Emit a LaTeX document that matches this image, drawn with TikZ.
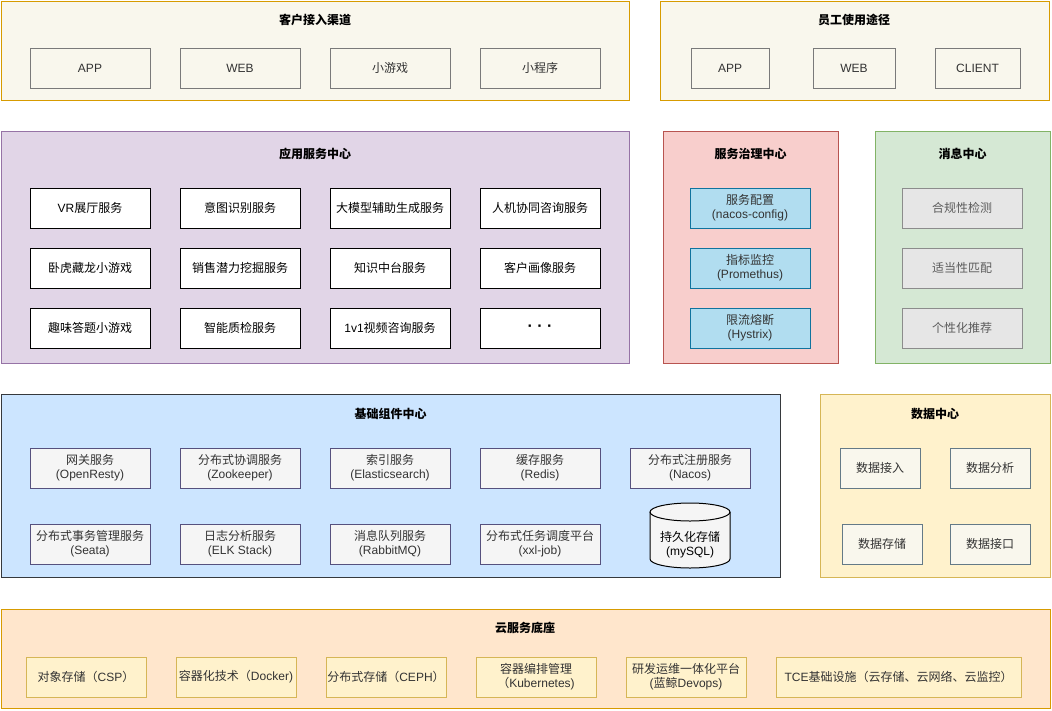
\documentclass[tikz,border=0pt]{standalone}
\usepackage{fontspec}
\setmainfont{Liberation Sans}
\newfontfamily\cjk{Noto Sans CJK SC}
\newfontfamily\latinf{Liberation Sans}
\XeTeXinterchartokenstate=1
\newXeTeXintercharclass\cjkcls
\count255="3000
\loop \XeTeXcharclass\count255=\cjkcls \ifnum\count255<"9FFF \advance\count255 by 1 \repeat
\count255="FF00
\loop \XeTeXcharclass\count255=\cjkcls \ifnum\count255<"FFEF \advance\count255 by 1 \repeat
\XeTeXinterchartoks 0 \cjkcls = {\cjk}
\XeTeXinterchartoks 4095 \cjkcls = {\cjk}
\XeTeXinterchartoks 255 \cjkcls = {\cjk}
\XeTeXinterchartoks \cjkcls 0 = {\latinf}
\definecolor{topfill}{HTML}{F9F7ED}
\definecolor{topline}{HTML}{D79B00}
\definecolor{topin}{HTML}{7A7A7A}
\definecolor{purfill}{HTML}{E1D5E7}
\definecolor{purline}{HTML}{9673A6}
\definecolor{redfill}{HTML}{F8CECC}
\definecolor{redline}{HTML}{B85450}
\definecolor{bluein}{HTML}{B1DDF0}
\definecolor{bluelin}{HTML}{10739E}
\definecolor{grnfill}{HTML}{D5E8D4}
\definecolor{grnline}{HTML}{82B366}
\definecolor{grayin}{HTML}{E6E6E6}
\definecolor{graylin}{HTML}{8C8C8C}
\definecolor{basefill}{HTML}{CCE5FF}
\definecolor{baseline}{HTML}{36393D}
\definecolor{basein}{HTML}{F5F5F5}
\definecolor{baselin}{HTML}{56517E}
\definecolor{datfill}{HTML}{FFF2CC}
\definecolor{datline}{HTML}{D6B656}
\definecolor{datinl}{HTML}{647A87}
\definecolor{cldfill}{HTML}{FFE6CC}
\definecolor{txtgray}{HTML}{333333}
\newcommand{\mybox}[7]{\node[#1, minimum width={#5-#3}, minimum height={#6-#4}] (#2) at ({(#3+#5)/2},{(#4+#6)/2}) {#7};}
\begin{document}
\begin{tikzpicture}[x=1pt,y=-1pt,
  every node/.style={inner sep=0pt, outer sep=0pt, font=\fontsize{12}{14}\selectfont, align=center},
  grp/.style={draw, line width=1pt},
  ttl/.style={font=\fontsize{12}{14}\selectfont\bfseries},
  inbox/.style={draw, line width=1pt, text=txtgray},
  topbox/.style={inbox, fill=topfill, draw=topin},
  appbox/.style={draw, line width=1pt, fill=white, draw=black, text=black},
  govbox/.style={inbox, fill=bluein, draw=bluelin},
  msgbox/.style={inbox, fill=grayin, draw=graylin, text=txtgray!80},
  bsbox/.style={inbox, fill=basein, draw=baselin},
  dtbox/.style={inbox, fill=topfill, draw=datinl},
  clbox/.style={inbox, fill=datfill, draw=datline},
]
\useasboundingbox (0,0) rectangle (1052,710);
% --- customer channels
\mybox{grp, fill=topfill, draw=topline}{cust}{1}{1}{629}{100}{}
\node[ttl] (custt) at (315,20) {客户接入渠道};
\mybox{topbox}{c1}{30}{48}{150}{88}{APP}
\mybox{topbox}{c2}{180}{48}{300}{88}{WEB}
\mybox{topbox}{c3}{330}{48}{450}{88}{小游戏}
\mybox{topbox}{c4}{480}{48}{600}{88}{小程序}
% --- staff
\mybox{grp, fill=topfill, draw=topline}{staff}{660}{1}{1049}{100}{}
\node[ttl] (stafft) at (854,20) {员工使用途径};
\mybox{topbox}{s1}{691}{48}{769}{88}{APP}
\mybox{topbox}{s2}{813}{48}{895}{88}{WEB}
\mybox{topbox}{s3}{935}{48}{1020}{88}{CLIENT}
% --- application services
\mybox{grp, fill=purfill, draw=purline}{app}{1}{131}{629}{363}{}
\node[ttl] (appt) at (315,154) {应用服务中心};
\mybox{appbox}{a11}{30}{188}{150}{228}{VR展厅服务}
\mybox{appbox}{a12}{180}{188}{300}{228}{意图识别服务}
\mybox{appbox}{a13}{330}{188}{450}{228}{大模型辅助生成服务}
\mybox{appbox}{a14}{480}{188}{600}{228}{人机协同咨询服务}
\mybox{appbox}{a21}{30}{248}{150}{288}{卧虎藏龙小游戏}
\mybox{appbox}{a22}{180}{248}{300}{288}{销售潜力挖掘服务}
\mybox{appbox}{a23}{330}{248}{450}{288}{知识中台服务}
\mybox{appbox}{a24}{480}{248}{600}{288}{客户画像服务}
\mybox{appbox}{a31}{30}{308}{150}{348}{趣味答题小游戏}
\mybox{appbox}{a32}{180}{308}{300}{348}{智能质检服务}
\mybox{appbox}{a33}{330}{308}{450}{348}{1v1视频咨询服务}
\mybox{appbox, font=\fontsize{16}{16}\selectfont\bfseries}{a34}{480}{308}{600}{348}{· · ·}
% --- governance
\mybox{grp, fill=redfill, draw=redline}{gov}{663}{131}{838}{363}{}
\node[ttl] (govt) at (750.5,154) {服务治理中心};
\mybox{govbox}{g1}{690}{188}{810}{228}{服务配置\\(nacos-config)}
\mybox{govbox}{g2}{690}{248}{810}{288}{指标监控\\(Promethus)}
\mybox{govbox}{g3}{690}{308}{810}{348}{限流熔断\\(Hystrix)}
% --- messages
\mybox{grp, fill=grnfill, draw=grnline}{msg}{875}{131}{1050}{363}{}
\node[ttl] (msgt) at (962.5,154) {消息中心};
\mybox{msgbox}{m1}{902}{188}{1022}{228}{合规性检测}
\mybox{msgbox}{m2}{902}{248}{1022}{288}{适当性匹配}
\mybox{msgbox}{m3}{902}{308}{1022}{348}{个性化推荐}
% --- base components
\mybox{grp, fill=basefill, draw=baseline}{base}{1}{394}{780}{577}{}
\node[ttl] (baset) at (390.5,414) {基础组件中心};
\mybox{bsbox}{b11}{30}{448}{150}{488}{网关服务\\(OpenResty)}
\mybox{bsbox}{b12}{180}{448}{300}{488}{分布式协调服务\\(Zookeeper)}
\mybox{bsbox}{b13}{330}{448}{450}{488}{索引服务\\(Elasticsearch)}
\mybox{bsbox}{b14}{480}{448}{600}{488}{缓存服务\\(Redis)}
\mybox{bsbox}{b15}{630}{448}{750}{488}{分布式注册服务\\(Nacos)}
\mybox{bsbox}{b21}{30}{524}{150}{564}{分布式事务管理服务\\(Seata)}
\mybox{bsbox}{b22}{180}{524}{300}{564}{日志分析服务\\(ELK Stack)}
\mybox{bsbox}{b23}{330}{524}{450}{564}{消息队列服务\\(RabbitMQ)}
\mybox{bsbox}{b24}{480}{524}{600}{564}{分布式任务调度平台\\(xxl-job)}
% cylinder
\fill[basein] (650,512) -- (650,559) arc[start angle=180,end angle=0,x radius=40,y radius=9] -- (730,512) -- cycle;
\fill[basein] (690,512) ellipse[x radius=40,y radius=9];
\draw[line width=1pt, draw=black] (650,512) -- (650,559) arc[start angle=180,end angle=0,x radius=40,y radius=9] -- (730,512);
\draw[line width=1pt, draw=black] (690,512) ellipse[x radius=40,y radius=9];
\node[text=black] (db) at (690,545) {持久化存储\\(mySQL)};
% --- data center
\mybox{grp, fill=datfill, draw=datline}{data}{820}{394}{1050}{577}{}
\node[ttl] (datat) at (935,414) {数据中心};
\mybox{dtbox}{d1}{840}{448}{920}{488}{数据接入}
\mybox{dtbox}{d2}{950}{448}{1030}{488}{数据分析}
\mybox{dtbox}{d3}{842}{524}{922}{564}{数据存储}
\mybox{dtbox}{d4}{950}{524}{1030}{564}{数据接口}
% --- cloud
\mybox{grp, fill=cldfill, draw=topline}{cloud}{1}{609}{1050}{708}{}
\node[ttl] (cloudt) at (525,628) {云服务底座};
\mybox{clbox}{k1}{26}{657}{146}{697}{对象存储（CSP）}
\mybox{clbox}{k2}{176}{657}{296}{697}{容器化技术（Docker)}
\mybox{clbox}{k3}{326}{657}{446}{697}{分布式存储（CEPH）}
\mybox{clbox}{k4}{476}{657}{596}{697}{容器编排管理\\（Kubernetes)}
\mybox{clbox}{k5}{626}{657}{746}{697}{研发运维一体化平台\\(蓝鲸Devops)}
\mybox{clbox}{k6}{776}{657}{1021}{697}{TCE基础设施（云存储、云网络、云监控）}
\end{tikzpicture}
\end{document}
